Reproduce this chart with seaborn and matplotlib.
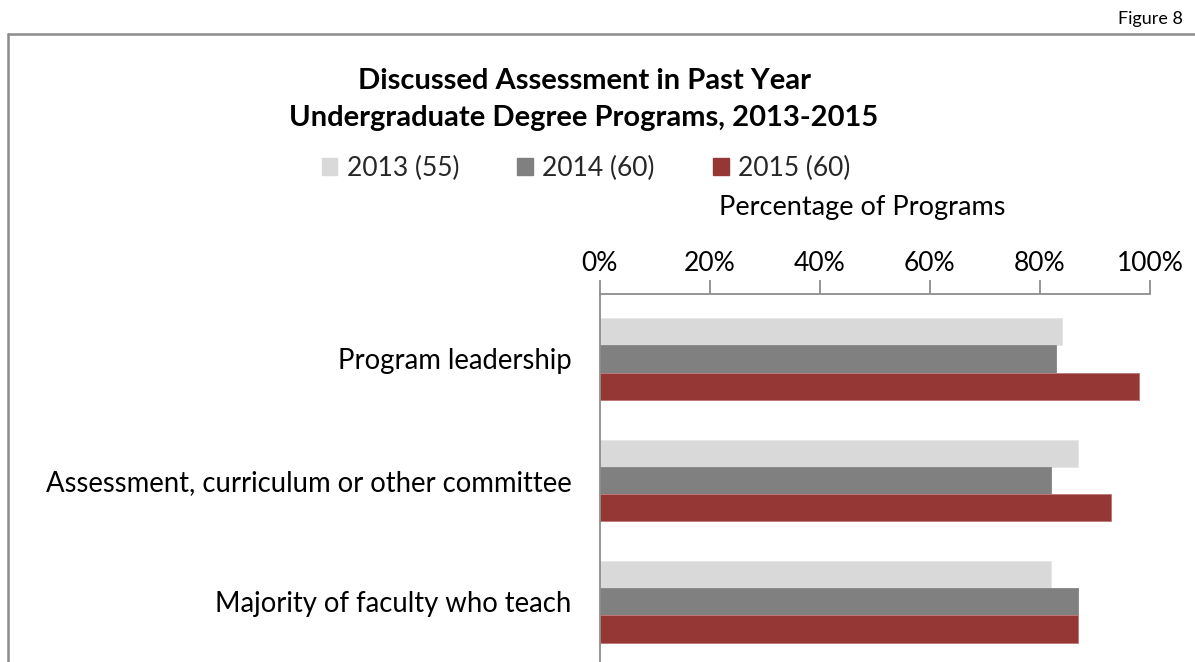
import matplotlib
matplotlib.use("Agg")
import matplotlib.pyplot as plt
import seaborn as sns
import pandas as pd
from matplotlib.patches import Patch
from matplotlib.lines import Line2D

categories = ["Program leadership", "Assessment, curriculum or other committee", "Majority of faculty who teach"]
series = ["2013 (55)", "2014 (60)", "2015 (60)"]
v2013 = [84, 87, 82]
v2014 = [83, 82, 87]
v2015 = [98, 93, 87]
colors = ["#D9D9D9", "#808080", "#953735"]
edges = ["#E6E6E6", "#8C8C8C", "#C0787A"]
xticks = [0, 20, 40, 60, 80, 100]
xtick_labels = ["0%", "20%", "40%", "60%", "80%", "100%"]

rows = []
for s, vals in zip(series, [v2013, v2014, v2015]):
    for c, v in zip(categories, vals):
        rows.append({"Category": c, "Series": s, "Value": v})
df = pd.DataFrame(rows)

sns.set_theme(style="white")
FONT = ["Lato", "DejaVu Sans"]
plt.rcParams["font.family"] = FONT

W, H = 1195, 662
fig = plt.figure(figsize=(W / 100, H / 100), dpi=100)
ax = fig.add_axes([599.5 / W, 0, 550.5 / W, 1 - 294 / H])

sns.barplot(data=df, y="Category", x="Value", hue="Series", order=categories,
            hue_order=series, palette=colors, orient="h", width=0.667,
            saturation=1, ax=ax, legend=False, errorbar=None)
for i, cont in enumerate(ax.containers):
    for p in cont:
        p.set_edgecolor(edges[i])
        p.set_linewidth(0.7)

ax.set_xlim(0, 100)
ax.set_ylim(2.494, -0.535)
ax.xaxis.tick_top()
ax.set_xticks(xticks)
ax.set_xticklabels(xtick_labels, fontsize=19, color="#000000")
ax.tick_params(axis="x", direction="out", length=10, width=1.3, color="#8C8C8C", pad=3, top=True, bottom=False)
ax.tick_params(axis="y", length=0, pad=20, labelsize=19.8, labelcolor="#000000")
ax.set_ylabel("")
ax.xaxis.set_label_position("top")
ax.set_xlabel("Percentage of Programs", fontsize=19.5, color="#000000")
ax.xaxis.set_label_coords(0.477, 1.214)
for s in ["right", "bottom"]:
    ax.spines[s].set_visible(False)
for s in ["top", "left"]:
    ax.spines[s].set_color("#8C8C8C")
    ax.spines[s].set_linewidth(1.3)
ax.set_facecolor("none")

# Title
fig.text(584 / W, 1 - 89 / H, "Discussed Assessment in Past Year", ha="center", va="baseline",
         fontsize=21, fontweight="bold", color="#000000")
fig.text(584 / W, 1 - 126 / H, "Undergraduate Degree Programs, 2013-2015", ha="center", va="baseline",
         fontsize=21, fontweight="bold", color="#000000")

# Legend
handles = [Patch(facecolor=c, edgecolor=c, label=s) for c, s in zip(colors, series)]
fig.legend(handles=handles, loc="center", bbox_to_anchor=(586 / W, 1 - 168 / H), ncol=3,
           frameon=False, fontsize=19, handlelength=0.6, handleheight=0.6,
           handletextpad=0.35, columnspacing=2.2)

# Figure number
fig.text(1183 / W, 1 - 19 / H, "Figure 8", ha="right", va="center", fontsize=13, color="#000000")

# Outer frame
fig.add_artist(Line2D([7.5 / W, 7.5 / W], [0, 1 - 34 / H], transform=fig.transFigure,
                      color="#8C8C8C", linewidth=1.8))
fig.add_artist(Line2D([7.5 / W, 1], [1 - 34 / H, 1 - 34 / H], transform=fig.transFigure,
                      color="#8C8C8C", linewidth=1.8))

fig.savefig("out.png", dpi=100)
